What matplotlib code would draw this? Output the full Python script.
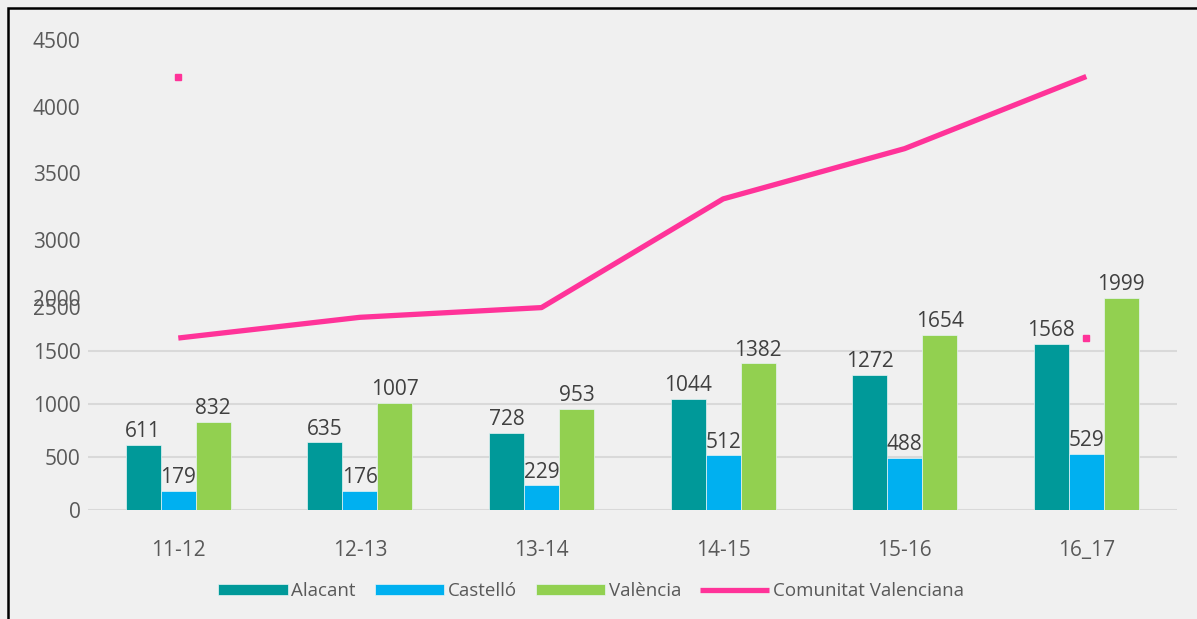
import matplotlib
matplotlib.use("Agg")
import matplotlib.pyplot as plt
import numpy as np
from matplotlib.patches import Rectangle

plt.rcParams['font.family'] = ['Open Sans', 'DejaVu Sans']

cursos = ["11-12", "12-13", "13-14", "14-15", "15-16", "16_17"]
alacant = [611, 635, 728, 1044, 1272, 1568]
castello = [179, 176, 229, 512, 488, 529]
valencia = [832, 1007, 953, 1382, 1654, 1999]
comunitat = [1622, 1818, 1910, 2938, 3414, 4096]
# two stray marker points in the original (first/last value swapped)
stray_x = [0, 5]
stray_y = [4096, 1622]

eje_inf = [0, 500, 1000, 1500, 2000]
eje_sup = [2500, 3000, 3500, 4000, 4500]

bg = '#f0f0f0'
fig = plt.figure(figsize=(11.97, 6.19), dpi=100, facecolor=bg)
# frame: only left and top edges fall inside the picture
fig.patches.append(Rectangle((8/1197, -0.05), 1.1, 1.05 - 8/619, transform=fig.transFigure,
                             fill=False, edgecolor='black', linewidth=1.8, zorder=0))

ax = fig.add_axes([87.5/1197, 109.5/619, 1089.6/1197, 475.7/619])
ax.set_facecolor(bg)
ax2 = ax.twinx()
ax.set_zorder(2)
ax.patch.set_visible(False)

x = np.arange(len(cursos))
w = 0.1927
b1 = ax.bar(x - w, alacant, w, color='#009999', edgecolor='#e8f4f4', linewidth=0.5, label='Alacant', zorder=3)
b2 = ax.bar(x, castello, w, color='#00B0F0', edgecolor='#e8f4f4', linewidth=0.5, label='Castelló', zorder=3)
b3 = ax.bar(x + w, valencia, w, color='#92D050', edgecolor='#e8f4f4', linewidth=0.5, label='València', zorder=3)
for b in (b1, b2, b3):
    ax.bar_label(b, padding=2, fontsize=15, color='#404040')

ln, = ax.plot(x, comunitat, color='#FF3399', linewidth=3.8, label='Comunitat Valenciana', zorder=4,
              solid_capstyle='butt')
ax.plot(stray_x, stray_y, linestyle='none', marker='s', markersize=5, color='#FF3399', zorder=4)

ax.set_xlim(-0.5, len(cursos) - 0.5)
ax.set_ylim(0, 4500)
ax.set_xticks(x)
ax.set_xticklabels(cursos, fontsize=15, color='#595959')
ax.set_yticks(eje_inf)
ax.set_yticklabels([str(v) for v in eje_inf], fontsize=15, color='#595959')
ax.tick_params(axis='both', length=0)
ax.tick_params(axis='x', pad=22)
ax.tick_params(axis='y', pad=5)
for v in eje_inf[:4]:
    ax.axhline(v, color='#d9d9d9', linewidth=1.5, zorder=1)
for s in ax.spines.values():
    s.set_visible(False)

ax2.set_ylim(979, 4546.5)
ax2.set_yticks(eje_sup)
ax2.yaxis.tick_left()
ax2.set_yticklabels([str(v) for v in eje_sup], fontsize=15, color='#595959')
ax2.tick_params(axis='y', length=0, pad=5)
for s in ax2.spines.values():
    s.set_visible(False)

fig.legend(handles=[b1, b2, b3, ln], loc='center', bbox_to_anchor=(591/1197, 0.045),
           ncol=4, frameon=False, fontsize=13.5, labelcolor='#595959',
           handlelength=3.7, handleheight=0.6, handletextpad=0.2, columnspacing=1.0)

fig.savefig('out.png', dpi=100, facecolor=bg)
